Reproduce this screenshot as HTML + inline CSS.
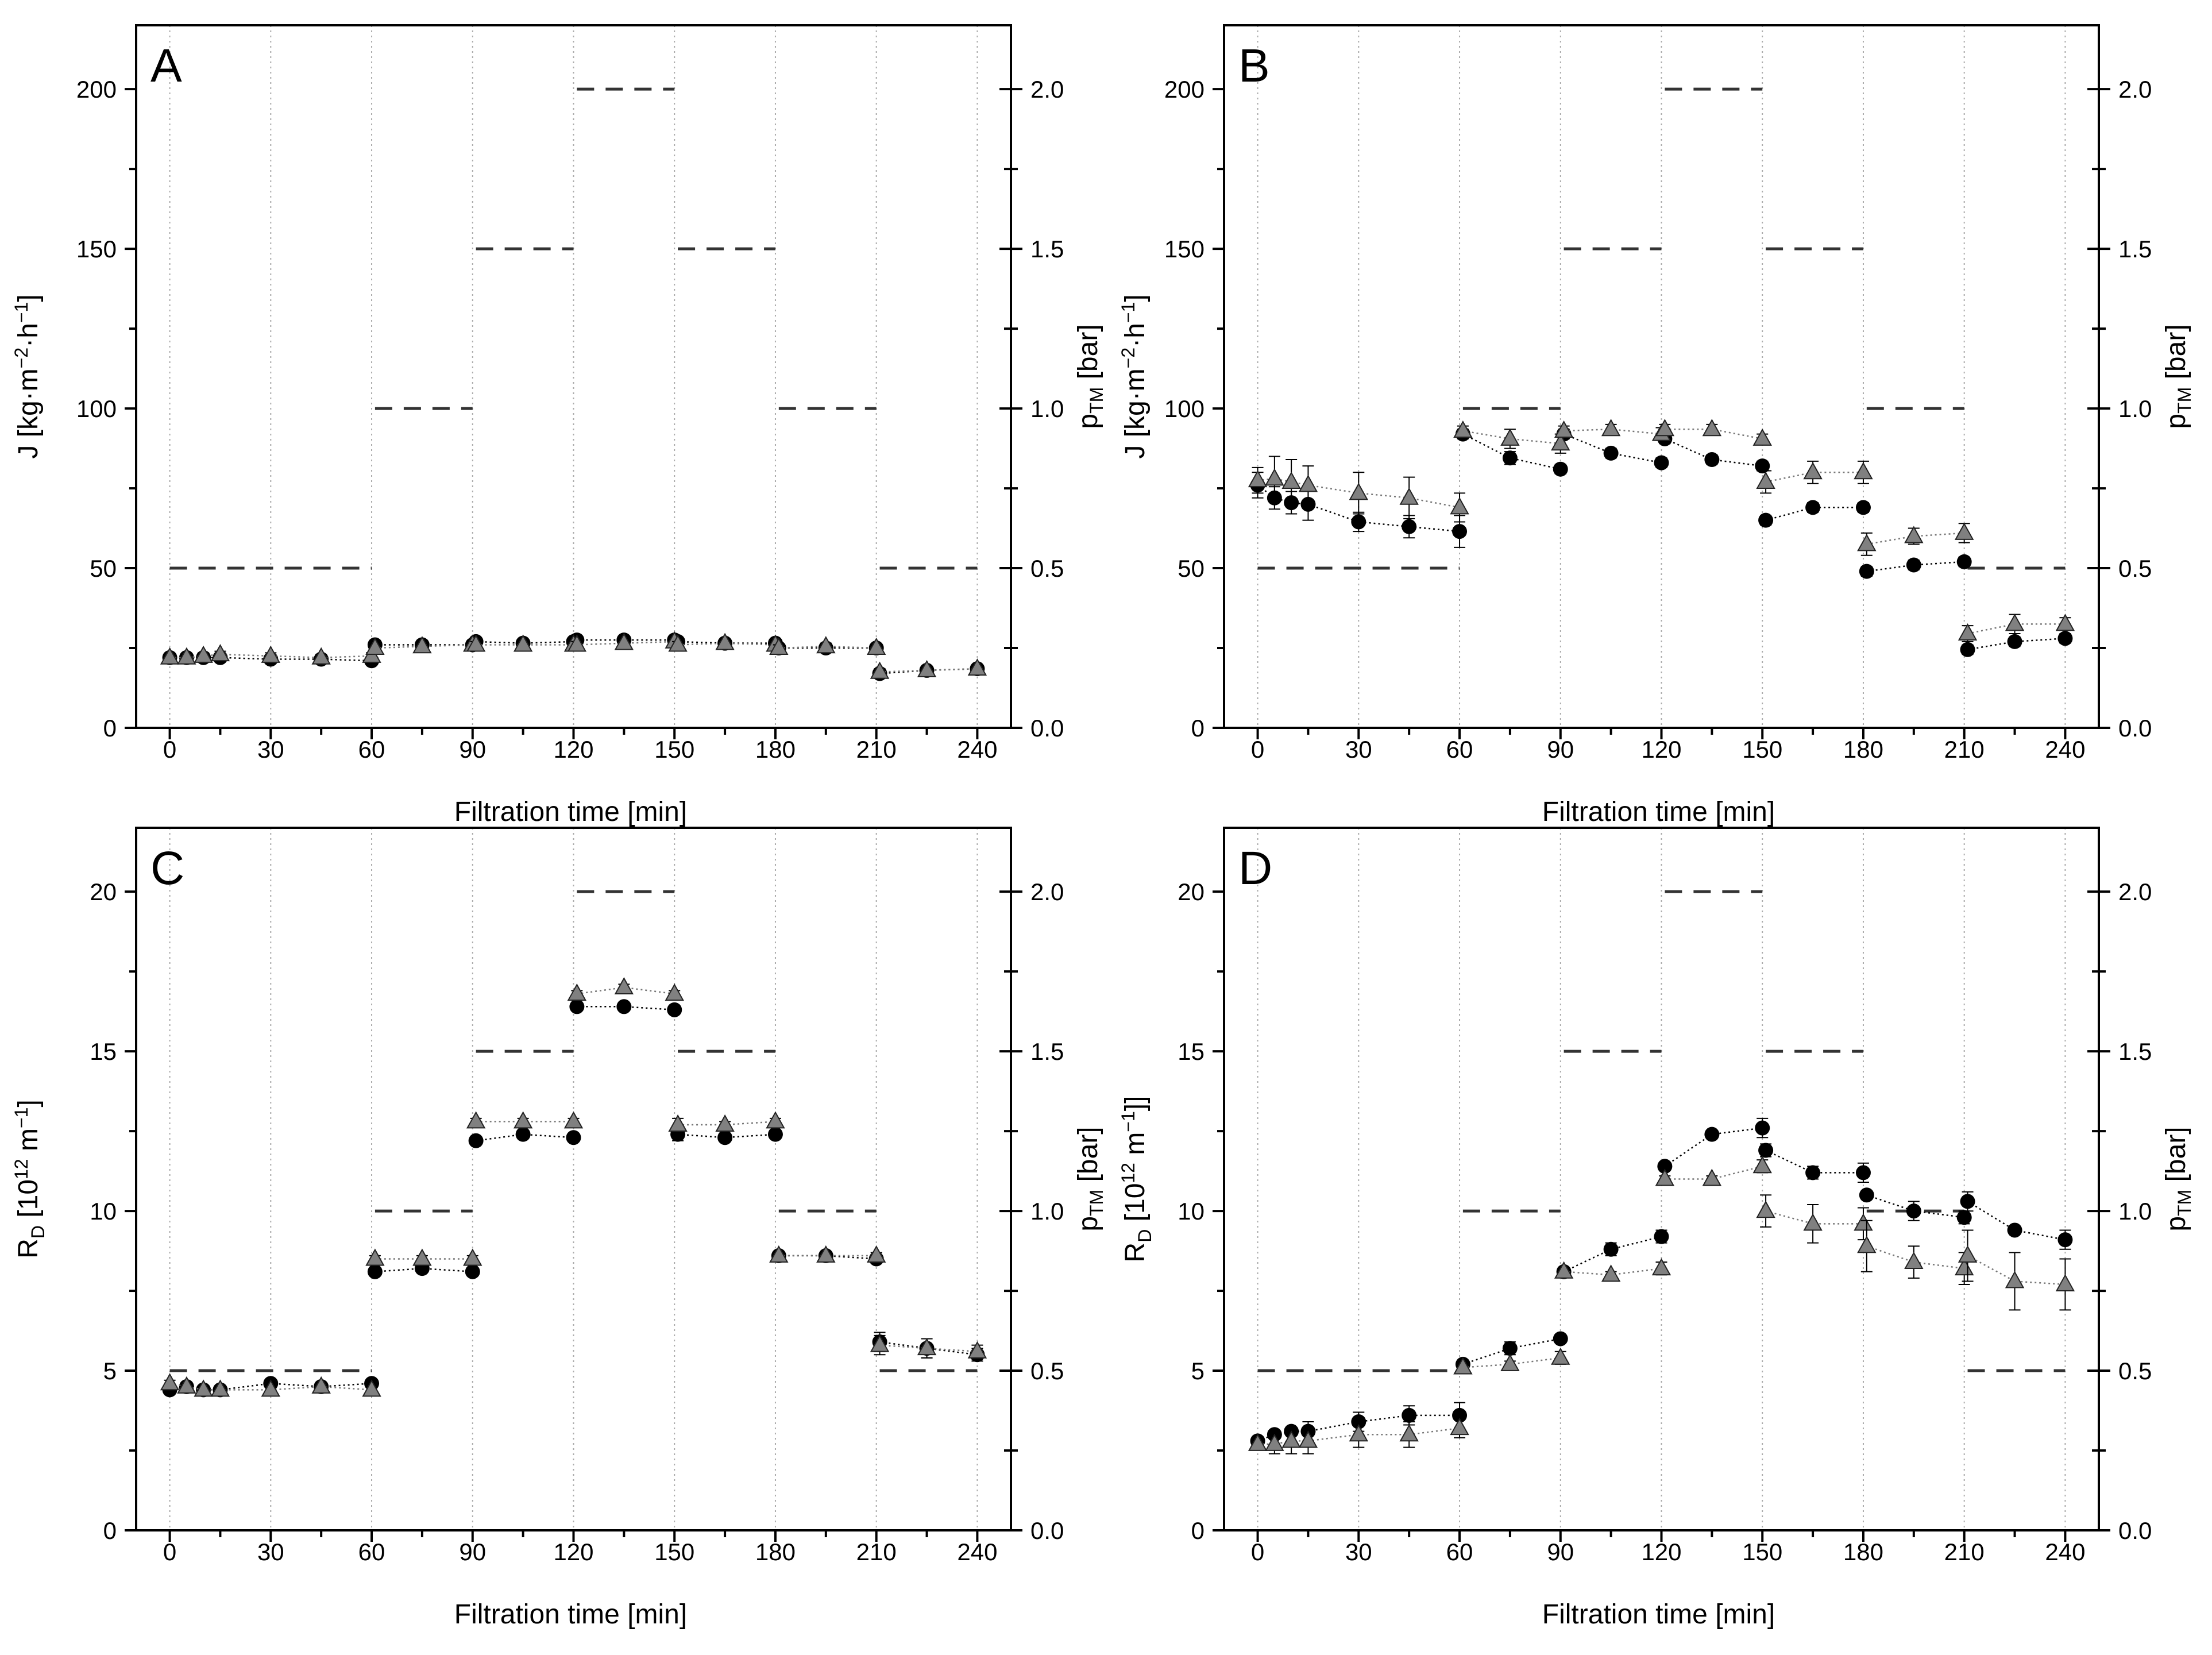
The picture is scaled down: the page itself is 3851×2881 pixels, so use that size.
<!DOCTYPE html>
<html><head><meta charset="utf-8"><style>
html,body{margin:0;padding:0;background:#fff;}
svg{display:block;font-family:"Liberation Sans",Arial,sans-serif;}
</style></head><body>
<svg id="fig" width="3851" height="2881" viewBox="0 0 3851 2881" xmlns="http://www.w3.org/2000/svg"></svg>
<script>
const times=[0,5,10,15,30,45,60,61,75,90,91,105,120,121,135,150,151,165,180,181,195,210,211,225,240];
const xTicks=[0,30,60,90,120,150,180,210,240];
const pStart=[0,61,91,121,151,181,211];
const pEnd=[60,90,120,150,180,210,240];
const pVal=[0.5,1.0,1.5,2.0,1.5,1.0,0.5];
const rightTicks=["0.0","0.5","1.0","1.5","2.0"];
const jTicks=[0,50,100,150,200];
const rTicks=[0,5,10,15,20];
const aCirc=[22,22,22,22,21.5,21.5,21,26,26,26,27,26.5,27,27.5,27.5,27.5,27,26.5,26.5,25,25,25,17,18,18.5];
const aTri=[22,22,22.5,23,22.5,22,22.5,25,25.5,26,26,26,26,26,26.5,27,26,26.5,26,25,25.5,25,17.5,18,18.5];
const aErr=[1,1,1,1,1,1,1,1,1,1,1,1,1,1,1,1,1,1,1,1,1,1,1,1,1];
const bCirc=[76,72,70.5,70,64.5,63,61.5,92,84.5,81,92,86,83,90.5,84,82,65,69,69,49,51,52,24.5,27,28];
const bTri=[77.5,78,77,76,73.5,72,69,93,90.5,89,93,93.5,92,93.5,93.5,90.5,77,80,80,57.5,60,61,29.5,32.5,32.5];
const bCircErr=[4,3.5,3.5,5,3,3.5,5,1.5,2,1.5,1.5,1.5,1.5,1.5,1.5,1.5,1.5,1.5,1.5,1.5,1.5,1.5,1.5,1.5,1.5];
const bTriErr=[4,7,7,6,6.5,6.5,4.5,1.5,3,3,1.5,1.5,2,1.5,1.5,1.5,3.5,3.5,3.5,3.5,2.5,3,2.5,3,2];
const cCirc=[4.4,4.5,4.4,4.4,4.6,4.5,4.6,8.1,8.2,8.1,12.2,12.4,12.3,16.4,16.4,16.3,12.4,12.3,12.4,8.6,8.6,8.5,5.9,5.7,5.5];
const cTri=[4.6,4.5,4.4,4.4,4.4,4.5,4.4,8.5,8.5,8.5,12.8,12.8,12.8,16.8,17.0,16.8,12.7,12.7,12.8,8.6,8.6,8.6,5.8,5.7,5.6];
const cErr=[0.1,0.1,0.1,0.1,0.1,0.1,0.1,0.1,0.1,0.1,0.1,0.1,0.1,0.1,0.1,0.1,0.2,0.1,0.1,0.1,0.1,0.1,0.3,0.3,0.2];
const dCirc=[2.8,3.0,3.1,3.1,3.4,3.6,3.6,5.2,5.7,6.0,8.1,8.8,9.2,11.4,12.4,12.6,11.9,11.2,11.2,10.5,10.0,9.8,10.3,9.4,9.1];
const dTri=[2.7,2.7,2.8,2.8,3.0,3.0,3.2,5.1,5.2,5.4,8.1,8.0,8.2,11.0,11.0,11.4,10.0,9.6,9.6,8.9,8.4,8.2,8.6,7.8,7.7];
const dCircErr=[0.1,0.1,0.1,0.3,0.3,0.3,0.4,0.1,0.2,0.1,0.1,0.2,0.2,0.1,0.1,0.3,0.2,0.2,0.3,0.1,0.3,0.2,0.3,0.1,0.3];
const dTriErr=[0.1,0.3,0.4,0.4,0.4,0.4,0.3,0.1,0.1,0.2,0.1,0.1,0.2,0.1,0.1,0.2,0.5,0.6,0.5,0.8,0.5,0.5,0.8,0.9,0.8];

const NS="http://www.w3.org/2000/svg";
const svg=document.getElementById('fig');
function mk(tag,attrs,parent){const e=document.createElementNS(NS,tag);for(const k in attrs)e.setAttribute(k,attrs[k]);(parent||svg).appendChild(e);return e;}

const PW=1523,PH=1223;
const panels=[
 {id:'a',letter:'A',L:237,T:44,ymax:220,yt:jTicks,minor:25,circ:aCirc,tri:aTri,ce:aErr,te:aErr,title:'J',yo:188},
 {id:'b',letter:'B',L:2131,T:44,ymax:220,yt:jTicks,minor:25,circ:bCirc,tri:bTri,ce:bCircErr,te:bTriErr,title:'J',yo:155},
 {id:'c',letter:'C',L:237,T:1441,ymax:22,yt:rTicks,minor:2.5,circ:cCirc,tri:cTri,ce:cErr,te:cErr,title:'R',yo:188},
 {id:'d',letter:'D',L:2131,T:1441,ymax:22,yt:rTicks,minor:2.5,circ:dCirc,tri:dTri,ce:dCircErr,te:dTriErr,title:'R2',yo:155}
];

panels.forEach(p=>{
 const g=mk('g',{});
 
 
 const X=v=>p.L+(v+10)/260*PW;
 const Y=v=>p.T+PH-v/p.ymax*PH;
 const YP=v=>p.T+PH-v/2.2*PH;
 const B=p.T+PH, R=p.L+PW;
 xTicks.forEach(t=>{const l=mk('line',{x1:X(t),x2:X(t),y1:p.T,y2:B,stroke:'#aaa','stroke-width':2,'stroke-dasharray':'3,6'},g);
  });
 pVal.forEach((v,i)=>{const l=mk('line',{x1:X(pStart[i]),x2:X(pEnd[i]),y1:YP(v),y2:YP(v),stroke:'#333','stroke-width':5,'stroke-dasharray':'30,20'},g);
  });
 function series(vals,errs,kind){
  let d='';
  times.forEach((t,i)=>{const brk=i===0||times[i]-times[i-1]===1;d+=(brk?'M':'L')+X(t)+','+Y(vals[i]);});
  const pl=mk('path',{d:d,fill:'none',stroke:kind==='circ'?'#000':'#777','stroke-width':2.5,'stroke-dasharray':'3,5'},g);
  
  times.forEach((t,i)=>{
   const x=X(t),y=Y(vals[i]),e=errs[i];
   const eb=mk('path',{d:`M${x},${Y(vals[i]-e)}V${Y(vals[i]+e)}M${x-10},${Y(vals[i]-e)}h20M${x-10},${Y(vals[i]+e)}h20`,stroke:'#000','stroke-width':2,fill:'none'},g);
   
   let m;
   if(kind==='circ'){m=mk('circle',{cx:x,cy:y,r:13,fill:'#000'},g);}
   else{m=mk('polygon',{points:`${x},${y-16} ${x-15},${y+11} ${x+15},${y+11}`,fill:'#808080',stroke:'#222','stroke-width':2},g);}
   
   
  });
 }
 series(p.circ,p.ce,'circ');
 series(p.tri,p.te,'tri');
 const fr=mk('rect',{x:p.L,y:p.T,width:PW,height:PH,fill:'none',stroke:'#000','stroke-width':4},g);
 
 for(let t=0;t<=240;t+=15){const maj=t%30===0;mk('line',{x1:X(t),x2:X(t),y1:B,y2:B+(maj?20:12),stroke:'#000','stroke-width':4},g);}
 xTicks.forEach(t=>{const tx=mk('text',{x:X(t),y:B+52,'font-size':42,'text-anchor':'middle'},g);tx.textContent=t;
  });
 for(let v=0;v<=p.ymax*0.95;v+=p.minor){const maj=Math.abs(v/(p.minor*2)-Math.round(v/(p.minor*2)))<1e-6;
  mk('line',{x1:p.L-(maj?20:12),x2:p.L,y1:Y(v),y2:Y(v),stroke:'#000','stroke-width':4},g);
  mk('line',{x1:R-(maj?20:12),x2:R+(maj?20:12),y1:Y(v),y2:Y(v),stroke:'#000','stroke-width':4},g);}
 p.yt.forEach(v=>{const tx=mk('text',{x:p.L-34,y:Y(v)+15,'font-size':42,'text-anchor':'end'},g);tx.textContent=v;
  });
 rightTicks.forEach(s=>{const tx=mk('text',{x:R+34,y:YP(+s)+15,'font-size':42,'text-anchor':'start'},g);tx.textContent=s;
  });
 const xt=mk('text',{x:p.L+PW/2-5,y:B+162,'font-size':48,'text-anchor':'middle'},g);xt.textContent='Filtration time [min]';
 
 const cy=p.T+PH/2;
 const yt=mk('text',{x:0,y:0,'font-size':48,'text-anchor':'middle',transform:`translate(${p.L-p.yo+16},${cy}) rotate(-90)`},g);
 
 if(p.title==='J'){yt.innerHTML='J [kg·m<tspan font-size="32" dy="-17">−2</tspan><tspan dy="17">·h</tspan><tspan font-size="32" dy="-17">−1</tspan><tspan dy="17">]</tspan>';}
 else{yt.innerHTML='R<tspan font-size="32" dy="12">D</tspan><tspan dy="-12"> [10</tspan><tspan font-size="32" dy="-17">12</tspan><tspan dy="17"> m</tspan><tspan font-size="32" dy="-17">−1</tspan><tspan dy="17">]'+(p.title==='R2'?']':'')+'</tspan>';}
 const rt=mk('text',{x:0,y:0,'font-size':48,'text-anchor':'middle',transform:`translate(${R+150},${cy}) rotate(-90)`},g);
 rt.innerHTML='p<tspan font-size="32" dy="10">TM</tspan><tspan dy="-10"> [bar]</tspan>';
 
 const lt=mk('text',{x:p.L+25,y:p.T+98,'font-size':82},g);lt.textContent=p.letter;
 
});
</script>
</body></html>
